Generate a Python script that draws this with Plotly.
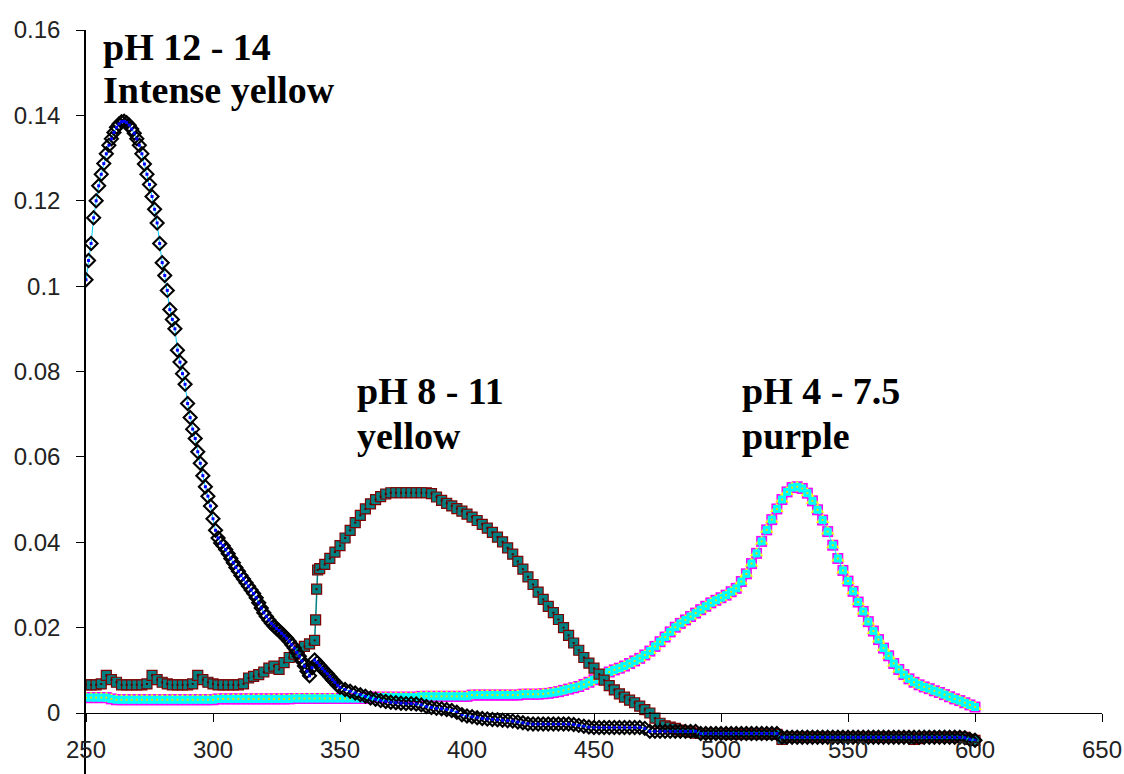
import plotly.graph_objects as go

# ---------------- data ----------------
# pH 12 - 14 (intense yellow)
WL_HIGH = list(range(250, 351)) + list(range(352, 601, 2))
ABS_HIGH = [
    0.1015, 0.1060, 0.1100, 0.1160, 0.1200, 0.1235, 0.1262, 0.1287, 0.1310, 0.1330,
    0.1345, 0.1360, 0.1372, 0.1380, 0.1385, 0.1386, 0.1383, 0.1377, 0.1368, 0.1358,
    0.1345, 0.1330, 0.1310, 0.1286, 0.1262, 0.1238, 0.1210, 0.1180, 0.1148, 0.1100,
    0.1055, 0.1025, 0.0990, 0.0945, 0.0922, 0.0900, 0.0850, 0.0822, 0.0795, 0.0770,
    0.0725, 0.0692, 0.0665, 0.0643, 0.0612, 0.0585, 0.0556, 0.0530, 0.0508, 0.0485,
    0.0455, 0.0428, 0.0410, 0.0398, 0.0392, 0.0383, 0.0373, 0.0362, 0.0352, 0.0341,
    0.0332, 0.0322, 0.0314, 0.0305, 0.0297, 0.0288, 0.0280, 0.0270, 0.0258, 0.0246,
    0.0235, 0.0226, 0.0218, 0.0210, 0.0204, 0.0198, 0.0193, 0.0187, 0.0181, 0.0175,
    0.0168, 0.0160, 0.0152, 0.0142, 0.0133, 0.0122, 0.0110, 0.0098, 0.0087, 0.0106,
    0.0124, 0.0118, 0.0111, 0.0104, 0.0098, 0.0092, 0.0085, 0.0078, 0.0072, 0.0065, 0.0060,
    # 352 .. 600 step 2
    0.0055, 0.0051, 0.0047, 0.0043, 0.0039, 0.0035, 0.0032, 0.0029, 0.0027, 0.0025,
    0.0024, 0.0023, 0.0022, 0.0022, 0.0021, 0.0019, 0.0015, 0.0013, 0.0011, 0.0010,
    0.0008, 0.0006, 0.0002, -0.0004, -0.0007, -0.0009, -0.0011, -0.0013, -0.0014, -0.0015,
    -0.0016, -0.0017, -0.0018, -0.0019, -0.0021, -0.0023, -0.0025, -0.0026, -0.0026, -0.0026,
    -0.0026, -0.0026, -0.0026, -0.0026, -0.0026, -0.0027, -0.0029, -0.0031, -0.0033, -0.0034,
    -0.0034, -0.0034, -0.0034, -0.0034, -0.0034, -0.0034, -0.0034, -0.0034, -0.0034, -0.0036,
    -0.0043, -0.0043, -0.0043, -0.0043, -0.0043, -0.0043, -0.0043, -0.0043, -0.0043, -0.0043,
    -0.0048, -0.0048, -0.0048, -0.0048, -0.0048, -0.0048, -0.0048, -0.0048, -0.0048, -0.0048,
    -0.0048, -0.0048, -0.0048, -0.0048, -0.0048, -0.0048, -0.0057, -0.0057, -0.0057, -0.0057,
    -0.0057, -0.0057, -0.0057, -0.0057, -0.0057, -0.0057, -0.0057, -0.0057, -0.0057, -0.0057,
    -0.0057, -0.0057, -0.0057, -0.0057, -0.0057, -0.0057, -0.0057, -0.0057, -0.0057, -0.0057,
    -0.0057, -0.0057, -0.0057, -0.0057, -0.0057, -0.0057, -0.0057, -0.0057, -0.0057, -0.0057,
    -0.0057, -0.0057, -0.0058, -0.0062, -0.0064,
]

# pH 8 - 11 (yellow)
WL_MID = list(range(250, 341, 2)) + [340.4, 340.8, 341.2] + list(range(342, 601, 2))
ABS_MID = [
    0.0066, 0.0066, 0.0066, 0.0068, 0.0088, 0.0078, 0.0072, 0.0066, 0.0066, 0.0066,
    0.0066, 0.0066, 0.0068, 0.0088, 0.0078, 0.0072, 0.0068, 0.0066, 0.0066, 0.0066,
    0.0066, 0.0068, 0.0088, 0.0078, 0.0072, 0.0068, 0.0066, 0.0066, 0.0066, 0.0066,
    0.0066, 0.0068, 0.0082, 0.0086, 0.0090, 0.0096, 0.0105, 0.0110, 0.0102, 0.0118,
    0.0130, 0.0138, 0.0148, 0.0156, 0.0162, 0.0170,
    # jump near 341
    0.0218, 0.0290, 0.0335,
    # 342 .. 600 step 2
    0.0338, 0.0348, 0.0362, 0.0377, 0.0392, 0.0410, 0.0428, 0.0446, 0.0463, 0.0478,
    0.0490, 0.0500, 0.0507, 0.0513, 0.0516, 0.0516, 0.0516, 0.0516, 0.0516, 0.0516,
    0.0516, 0.0516, 0.0514, 0.0506, 0.0498, 0.0491, 0.0485, 0.0479, 0.0473, 0.0466,
    0.0459, 0.0451, 0.0442, 0.0433, 0.0423, 0.0412, 0.0401, 0.0387, 0.0372, 0.0355,
    0.0337, 0.0319, 0.0301, 0.0283, 0.0266, 0.0250, 0.0235, 0.0219, 0.0200, 0.0182,
    0.0164, 0.0147, 0.0130, 0.0117, 0.0105, 0.0091, 0.0077, 0.0064, 0.0054, 0.0045,
    0.0037, 0.0030, 0.0024, 0.0016, 0.0008, 0.0000, -0.0012, -0.0024, -0.0030, -0.0033,
    -0.0036, -0.0040, -0.0043, -0.0045, -0.0047, -0.0048, -0.0048, -0.0048, -0.0048, -0.0048,
    -0.0049, -0.0049, -0.0049, -0.0049, -0.0049, -0.0049, -0.0049, -0.0049, -0.0049, -0.0049,
    -0.0050, -0.0062, -0.0057, -0.0057, -0.0057, -0.0057, -0.0057, -0.0057, -0.0057, -0.0057,
    -0.0057, -0.0057, -0.0057, -0.0057, -0.0057, -0.0057, -0.0057, -0.0057, -0.0057, -0.0057,
    -0.0057, -0.0057, -0.0057, -0.0057, -0.0057, -0.0057, -0.0057, -0.0062, -0.0060, -0.0057,
    -0.0057, -0.0057, -0.0057, -0.0057, -0.0057, -0.0057, -0.0057, -0.0057, -0.0062, -0.0064,
]

# pH 4 - 7.5 (purple)
WL_LOW = list(range(250, 601, 2))
ABS_LOW = [
    0.0036, 0.0036, 0.0036, 0.0036, 0.0036, 0.0033, 0.0031, 0.0031, 0.0031, 0.0031,
    0.0031, 0.0031, 0.0031, 0.0031, 0.0031, 0.0031, 0.0031, 0.0031, 0.0031, 0.0031,
    0.0031, 0.0031, 0.0031, 0.0031, 0.0031, 0.0031, 0.0033, 0.0033, 0.0033, 0.0033,
    0.0033, 0.0033, 0.0033, 0.0033, 0.0033, 0.0033, 0.0033, 0.0033, 0.0033, 0.0033,
    0.0033, 0.0034, 0.0034, 0.0034, 0.0034, 0.0034, 0.0034, 0.0034, 0.0034, 0.0034,
    0.0034, 0.0034, 0.0034, 0.0034, 0.0034, 0.0034, 0.0037, 0.0037, 0.0037, 0.0037,
    0.0037, 0.0037, 0.0037, 0.0037, 0.0037, 0.0037, 0.0039, 0.0039, 0.0039, 0.0039,
    0.0039, 0.0039, 0.0039, 0.0039, 0.0039, 0.0039, 0.0042, 0.0042, 0.0042, 0.0042,
    0.0042, 0.0042, 0.0042, 0.0042, 0.0042, 0.0042, 0.0044, 0.0044, 0.0044, 0.0044,
    0.0045, 0.0046, 0.0048, 0.0050, 0.0053, 0.0056, 0.0059, 0.0062, 0.0067, 0.0072,
    0.0078, 0.0085, 0.0090, 0.0096, 0.0101, 0.0105, 0.0110, 0.0116, 0.0122, 0.0128,
    0.0136, 0.0145, 0.0156, 0.0167, 0.0178, 0.0190, 0.0201, 0.0210, 0.0218, 0.0226,
    0.0234, 0.0242, 0.0250, 0.0258, 0.0264, 0.0270, 0.0276, 0.0284, 0.0292, 0.0308,
    0.0326, 0.0350, 0.0374, 0.0402, 0.0429, 0.0453, 0.0478, 0.0500, 0.0518, 0.0528,
    0.0530, 0.0526, 0.0515, 0.0497, 0.0476, 0.0452, 0.0425, 0.0393, 0.0362, 0.0334,
    0.0309, 0.0285, 0.0260, 0.0238, 0.0214, 0.0192, 0.0172, 0.0152, 0.0134, 0.0116,
    0.0102, 0.0090, 0.0080, 0.0072, 0.0066, 0.0061, 0.0057, 0.0052, 0.0048, 0.0043,
    0.0038, 0.0033, 0.0029, 0.0024, 0.0019, 0.0014,
]

X_RANGE = [250, 650]
Y_RANGE = [-0.01429, 0.16]
Y_TICKS = [0, 0.02, 0.04, 0.06, 0.08, 0.1, 0.12, 0.14, 0.16]
Y_LABELS = ["0", "0.02", "0.04", "0.06", "0.08", "0.1", "0.12", "0.14", "0.16"]

LABELS = [
    ("pH 12 - 14", 256.0, 0.1560),
    ("Intense yellow", 256.0, 0.1460),
    ("pH 8 - 11", 356.0, 0.0755),
    ("yellow", 356.0, 0.0650),
    ("pH 4 - 7.5", 507.5, 0.0755),
    ("purple", 507.5, 0.0650),
]

# ---------------- figure ----------------
fig = go.Figure()

# pH 4 - 7.5 group
fig.add_trace(go.Scatter(x=WL_LOW, y=ABS_LOW, mode="markers",
                         marker=dict(symbol="square", size=11, color="#FF00FF",
                                     line=dict(width=0)), hoverinfo="skip"))
fig.add_trace(go.Scatter(x=WL_LOW, y=ABS_LOW, mode="markers",
                         marker=dict(symbol="triangle-up", size=12, color="#FFFF00",
                                     line=dict(width=0)), hoverinfo="skip"))
fig.add_trace(go.Scatter(x=WL_LOW, y=ABS_LOW, mode="lines+markers",
                         line=dict(color="#00FFFF", width=1),
                         marker=dict(symbol="square", size=8, color="#00FFFF",
                                     line=dict(width=0)), hoverinfo="skip"))
fig.add_trace(go.Scatter(x=WL_LOW, y=ABS_LOW, mode="markers",
                         marker=dict(symbol="square", size=2, color="#E0E000"),
                         hoverinfo="skip"))

# pH 8 - 11 group
fig.add_trace(go.Scatter(x=WL_MID, y=ABS_MID, mode="lines+markers",
                         line=dict(color="#008080", width=1.5),
                         marker=dict(symbol="square", size=10, color="#008080",
                                     line=dict(color="#800000", width=1.2)),
                         hoverinfo="skip"))
fig.add_trace(go.Scatter(x=WL_MID, y=ABS_MID, mode="markers",
                         marker=dict(symbol="square", size=2, color="#500000"),
                         hoverinfo="skip"))

# pH 12 - 14 group
fig.add_trace(go.Scatter(x=WL_HIGH, y=ABS_HIGH, mode="lines+markers",
                         line=dict(color="#00CCFF", width=1),
                         marker=dict(symbol="diamond-open", size=10, color="#000000",
                                     line=dict(width=2.1)),
                         hoverinfo="skip"))
fig.add_trace(go.Scatter(x=WL_HIGH, y=ABS_HIGH, mode="markers",
                         marker=dict(symbol="square", size=3, color="#0000FF"),
                         hoverinfo="skip"))

for text, x, y in LABELS:
    fig.add_annotation(x=x, y=y, xref="x", yref="y", text=f"<b>{text}</b>",
                       showarrow=False, xanchor="left", yanchor="middle",
                       font=dict(family="Liberation Serif", size=38, color="#000000"))

x_axis_pos = (0 - Y_RANGE[0]) / (Y_RANGE[1] - Y_RANGE[0])

fig.update_layout(
    width=1124, height=774,
    margin=dict(l=86, r=22, t=30, b=0, autoexpand=False),
    paper_bgcolor="white", plot_bgcolor="white",
    showlegend=False,
    font=dict(family="Liberation Sans", size=24, color="#222222"),
    xaxis=dict(range=X_RANGE, tick0=250, dtick=50, showgrid=False, zeroline=False,
               showline=True, linecolor="#000000", linewidth=1,
               ticks="outside", ticklen=8, tickcolor="#000000", tickwidth=1,
               anchor="free", position=x_axis_pos, automargin=False,
               ticklabelstandoff=7),
    yaxis=dict(range=Y_RANGE, tickvals=Y_TICKS, ticktext=Y_LABELS,
               showgrid=False, zeroline=False,
               showline=True, linecolor="#000000", linewidth=1.5,
               ticks="outside", ticklen=8, tickcolor="#000000", tickwidth=1,
               automargin=False, ticklabelstandoff=11),
)

fig.write_html("out.html")
